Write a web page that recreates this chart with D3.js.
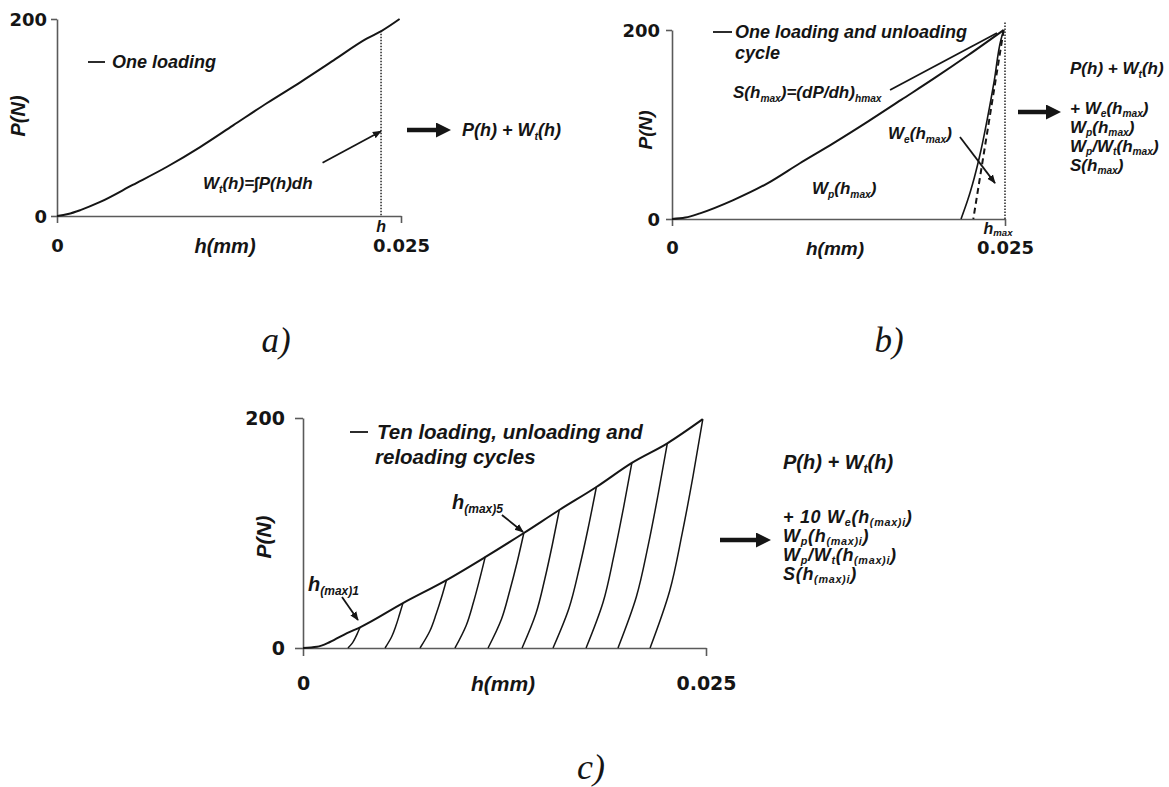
<!DOCTYPE html>
<html><head><meta charset="utf-8">
<script src="https://cdn.jsdelivr.net/npm/d3@7"></script>
<style>body{margin:0;background:#fff}</style>
</head><body><svg id="chart" width="1169" height="787"></svg>
<script>
// ---------- data ----------
const xTicks = [0, 0.025];
const yTicks = [0, 200];
const xTickLabels = ["0", "0.025"];

// panel a : one loading
const loadA = [[0,0],[0.0008,2],[0.0017,6],[0.0031,14],[0.0055,31.5],[0.008,50],[0.0104,70],[0.0128,92],[0.0153,115],[0.0177,136],[0.0201,158],[0.0225,180],[0.0236,188],[0.0249,200]];
const hA = 0.02355;             // dotted marker h
const pointerA = [[0.0193,54],[0.02355,86]];

// panel b : one loading and unloading cycle
const loadB = [[0,0],[0.001,1.5],[0.0021,6],[0.0046,20],[0.0072,38],[0.0096,59],[0.0121,80],[0.0147,103],[0.0172,126],[0.0197,149],[0.0222,173],[0.0249,200]];
const unloadB = [[0.0217,0],[0.0222,20],[0.0227,44],[0.0232,73],[0.0237,108],[0.0242,147],[0.0247,190],[0.0249,200]];
const tangentB = [[0.0249,200],[0.02262,0]];
const hB = 0.025;
const pointerS = [[0.01637,136.5],[0.0244,196.8]];
const pointerWe = [[0.02162,86.8],[0.02425,38]];

// panel c : ten loading, unloading and reloading cycles
const loadC = [[0,0],[0.00087,1],[0.00167,5.2],[0.00273,13],[0.00354,18],[0.0062,39],[0.0089,59],[0.0113,79],[0.0137,100],[0.0159,120],[0.0182,140],[0.0204,161],[0.0226,178],[0.0248,199]];
const unloadC = [
  [[0.00279,0],[0.00307,4.5],[0.00325,9],[0.00340,13.5],[0.00354,18]],
  [[0.00509,0],[0.00550,9.8],[0.00577,19.5],[0.00599,29.3],[0.0062,39]],
  [[0.00726,0],[0.00787,14.8],[0.00826,29.5],[0.00860,44.3],[0.0089,59]],
  [[0.00943,0],[0.01013,19.8],[0.01057,39.5],[0.01095,59.3],[0.0113,79]],
  [[0.01148,0],[0.01231,25],[0.01283,50],[0.01329,75],[0.0137,100]],
  [[0.01359,0],[0.01445,30],[0.01500,60],[0.01547,90],[0.0159,120]],
  [[0.01551,0],[0.01651,35],[0.01715,70],[0.01770,105],[0.0182,140]],
  [[0.01756,0],[0.01862,40],[0.01929,80.5],[0.01987,121],[0.0204,161]],
  [[0.01954,0],[0.02068,44.5],[0.02141,89],[0.02203,133.5],[0.0226,178]],
  [[0.02153,0],[0.02275,49.8],[0.02352,99.5],[0.02419,149],[0.0248,199]]
];
const pointerC1 = [[0.00242,44.3],[0.00341,24.3]];
const pointerC5 = [[0.01234,115.7],[0.01365,100.9]];

// ---------- drawing ----------
const svg = d3.select("#chart");
const INK = "#151515", AX = "#5a5a5a";
const SANS = "'Liberation Sans', Arial, sans-serif";
const NUM = "'DejaVu Sans', Verdana, sans-serif";
const SERIF = "'Liberation Serif', 'Times New Roman', serif";

const defs = svg.append("defs");
defs.append("marker").attr("id","ah").attr("viewBox","0 0 10 10").attr("refX",9).attr("refY",5)
  .attr("markerWidth",9).attr("markerHeight",9).attr("markerUnits","userSpaceOnUse").attr("orient","auto")
  .append("path").attr("d","M0,1L10,5L0,9Z").attr("fill",INK);
defs.append("marker").attr("id","big").attr("viewBox","0 0 10 10").attr("refX",2).attr("refY",5)
  .attr("markerWidth",15).attr("markerHeight",15).attr("markerUnits","userSpaceOnUse").attr("orient","auto")
  .append("path").attr("d","M0,0L10,5L0,10Z").attr("fill",INK);

function rich(g, x, cy, parts, size, opts={}) {
  const t = g.append("text").attr("x", x).attr("y", cy + size*0.36)
    .attr("font-family", SANS).attr("font-size", size)
    .attr("font-weight", opts.weight || "bold").attr("font-style", opts.style || "italic")
    .attr("fill", INK).attr("text-anchor", opts.anchor || "start");
  if (opts.ls) t.attr("letter-spacing", opts.ls);
  let shift = 0;
  const subShift = opts.sub || 0.2;
  parts.forEach(p => {
    const [s, type] = Array.isArray(p) ? p : [p, ""];
    const ts = t.append("tspan").text(s);
    const target = type === "sub" ? size*subShift : 0;
    if (target !== shift) { ts.attr("dy", target - shift); shift = target; }
    if (type === "sub") ts.attr("font-size", size*0.6);
  });
  return t;
}

function panel(cfg) {
  const g = svg.append("g");
  const x = d3.scaleLinear().domain([0, 0.025]).range(cfg.xr);
  const y = d3.scaleLinear().domain([0, 200]).range(cfg.yr);
  const line = d3.line().x(d => x(d[0])).y(d => y(d[1]));
  const smoothX = d3.line().x(d => x(d[0])).y(d => y(d[1])).curve(d3.curveMonotoneX);
  const smoothY = d3.line().x(d => x(d[0])).y(d => y(d[1])).curve(d3.curveMonotoneY);
  const ya = g.append("g").attr("transform", `translate(${x(0)},0)`)
    .call(d3.axisLeft(y).tickValues(yTicks).tickSize(cfg.ytick).tickSizeOuter(0).tickPadding(cfg.ypad).tickFormat(d3.format("d")));
  const xa = g.append("g").attr("transform", `translate(0,${y(0)})`)
    .call(d3.axisBottom(x).tickValues(xTicks).tickSize(cfg.xtick).tickSizeOuter(0).tickFormat((d,i) => xTickLabels[i]));
  [ya, xa].forEach(a => {
    a.select(".domain").attr("stroke", AX).attr("stroke-width", 1.6);
    a.selectAll(".tick line").attr("stroke", AX).attr("stroke-width", 1.6);
    a.selectAll("text").attr("font-family", NUM).attr("font-weight", "bold")
      .attr("font-size", cfg.tickSize).attr("fill", INK);
  });
  ya.selectAll("text").attr("dy", "0.36em");
  xa.selectAll("text").attr("y", cfg.xlab).attr("dy", "0.36em");
  // axis titles
  g.append("text").attr("transform", `translate(${cfg.pnx},${cfg.pny}) rotate(-90)`)
    .attr("text-anchor", "middle").attr("dy", "0.36em")
    .attr("font-family", SANS).attr("font-weight", "bold").attr("font-style", "italic")
    .attr("font-size", cfg.titleSize).attr("fill", INK).text("P(N)");
  g.append("text").attr("x", cfg.hmx).attr("y", y(0) + cfg.xlab).attr("dy", "0.36em")
    .attr("text-anchor", "middle")
    .attr("font-family", SANS).attr("font-weight", "bold").attr("font-style", "italic")
    .attr("font-size", cfg.titleSize).attr("fill", INK).text("h(mm)");
  return {g, x, y, line, smoothX, smoothY};
}

function curve(P, gen, data, w, dash) {
  P.g.append("path").attr("d", gen(data)).attr("fill", "none")
    .attr("stroke", INK).attr("stroke-width", w).attr("stroke-linejoin", "round")
    .attr("stroke-dasharray", dash || null);
}
function pointer(P, pts, head) {
  P.g.append("line").attr("x1", P.x(pts[0][0])).attr("y1", P.y(pts[0][1]))
    .attr("x2", P.x(pts[1][0])).attr("y2", P.y(pts[1][1]))
    .attr("stroke", INK).attr("stroke-width", 1.8)
    .attr("marker-end", head ? "url(#ah)" : null);
}
function bigArrow(x1, x2, yy) {
  svg.append("line").attr("x1", x1).attr("x2", x2 - 13).attr("y1", yy).attr("y2", yy)
    .attr("stroke", INK).attr("stroke-width", 4.5).attr("marker-end", "url(#big)");
}
function legendDash(x1, x2, yy) {
  svg.append("line").attr("x1", x1).attr("x2", x2).attr("y1", yy).attr("y2", yy)
    .attr("stroke", INK).attr("stroke-width", 1.8);
}
function panelLabel(txt, cx, base, size) {
  svg.append("text").attr("x", cx).attr("y", base).attr("text-anchor", "middle")
    .attr("font-family", SERIF).attr("font-style", "italic").attr("font-size", size)
    .attr("fill", INK).text(txt);
}

// ----- panel a -----
const A = panel({xr:[57,401], yr:[216,19], ytick:6, ypad:4, xtick:7, xlab:30, tickSize:18, titleSize:20, pnx:18, pny:116, hmx:225});
curve(A, A.smoothX, loadA, 2);
A.g.append("line").attr("x1", A.x(hA)).attr("x2", A.x(hA)).attr("y1", A.y(188)).attr("y2", A.y(0))
  .attr("stroke", INK).attr("stroke-width", 1.4).attr("stroke-dasharray", "1.5,1.5");
pointer(A, pointerA, true);
legendDash(88, 105, 62);
rich(svg, 112, 62, ["One loading"], 18);
rich(svg, 203, 183, ["W", ["t","sub"], "(h)=∫P(h)dh"], 17);
rich(svg, A.x(hA), 226, ["h"], 16, {anchor:"middle"});
bigArrow(407, 452, 130);
rich(svg, 462, 130, ["P(h) + W", ["t","sub"], "(h)"], 18);
panelLabel("a)", 276, 352, 35);

// ----- panel b -----
const B = panel({xr:[672,1005], yr:[219,30], ytick:6, ypad:6, xtick:7, xlab:29, tickSize:18, titleSize:19, pnx:645, pny:130, hmx:835});
curve(B, B.smoothX, loadB, 2);
curve(B, B.smoothY, unloadB, 1.6);
curve(B, B.line, tangentB, 2, "6,4");
B.g.append("line").attr("x1", B.x(hB)).attr("x2", B.x(hB)).attr("y1", B.y(208)).attr("y2", B.y(0))
  .attr("stroke", INK).attr("stroke-width", 1.4).attr("stroke-dasharray", "1.5,1.5");
pointer(B, pointerS, false);
pointer(B, pointerWe, true);
legendDash(713, 732, 32);
rich(svg, 735, 32, ["One loading and unloading"], 18);
rich(svg, 735, 53, ["cycle"], 18);
rich(svg, 733, 92, ["S(h", ["max","sub"], ")=(dP/dh)", ["hmax","sub"]], 17);
rich(svg, 888, 133, ["W", ["e","sub"], "(h", ["max","sub"], ")"], 17);
rich(svg, 812, 188, ["W", ["p","sub"], "(h", ["max","sub"], ")"], 17);
rich(svg, 998, 228, ["h", ["max","sub"]], 16, {anchor:"middle", sub:0.15});
bigArrow(1018, 1062, 112);
rich(svg, 1070, 68, ["P(h) + W", ["t","sub"], "(h)"], 17);
rich(svg, 1070, 108, ["+ W", ["e","sub"], "(h", ["max","sub"], ")"], 17, {sub:0.15});
rich(svg, 1070, 127, ["W", ["p","sub"], "(h", ["max","sub"], ")"], 17, {sub:0.15});
rich(svg, 1070, 146, ["W", ["p","sub"], "/W", ["t","sub"], "(h", ["max","sub"], ")"], 17, {sub:0.15});
rich(svg, 1070, 165, ["S(h", ["max","sub"], ")"], 17, {sub:0.15});
panelLabel("b)", 889, 352, 35);

// ----- panel c -----
const C = panel({xr:[303,706], yr:[648,418], ytick:8, ypad:10, xtick:8, xlab:35, tickSize:19, titleSize:21, pnx:263, pny:537, hmx:503});
curve(C, C.smoothX, loadC, 2);
unloadC.forEach(u => curve(C, C.smoothY, u, 1.5));
pointer(C, pointerC1, true);
pointer(C, pointerC5, true);
legendDash(350, 368, 432);
rich(svg, 377, 432, ["Ten loading, unloading and"], 20.5);
rich(svg, 375, 457, ["reloading cycles"], 20.5);
rich(svg, 308, 584, ["h", ["(max)1","sub"]], 20);
rich(svg, 452, 502, ["h", ["(max)5","sub"]], 20);
bigArrow(720, 772, 540);
rich(svg, 783, 462, ["P(h) + W", ["t","sub"], "(h)"], 20);
rich(svg, 783, 517, ["+ 10 W", ["e","sub"], "(h", ["(max)i","sub"], ")"], 18, {sub:0.12, ls:0.7});
rich(svg, 783, 536, ["W", ["p","sub"], "(h", ["(max)i","sub"], ")"], 18, {sub:0.12, ls:0.7});
rich(svg, 783, 555, ["W", ["p","sub"], "/W", ["t","sub"], "(h", ["(max)i","sub"], ")"], 18, {sub:0.12, ls:0.7});
rich(svg, 783, 574, ["S(h", ["(max)i","sub"], ")"], 18, {sub:0.12, ls:0.7});
panelLabel("c)", 591, 779, 36);
</script></body></html>
